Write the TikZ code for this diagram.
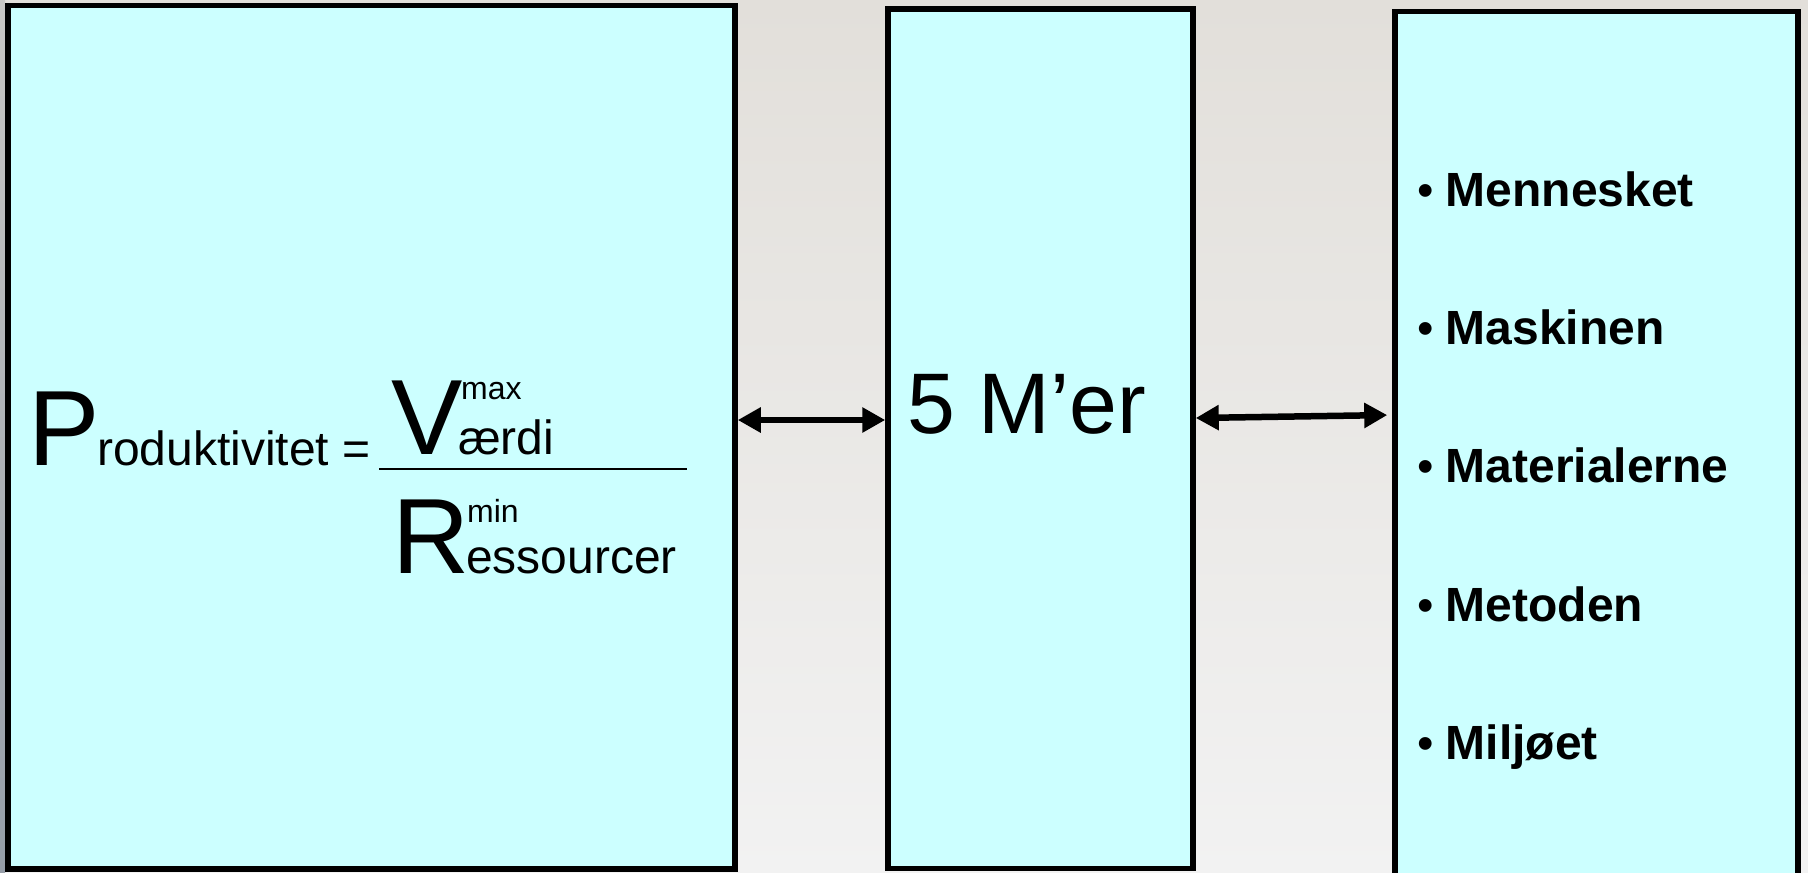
\documentclass[tikz,border=0pt]{standalone}
\usepackage{fontspec}
\setmainfont{Liberation Sans}
\usetikzlibrary{arrows.meta}
\definecolor{boxfill}{RGB}{204,255,255}
\definecolor{bgtop}{RGB}{226,223,218}
\definecolor{bgbot}{RGB}{242,242,242}
\definecolor{striptop}{RGB}{200,199,197}
\definecolor{stripbot}{RGB}{150,158,168}
\begin{document}
\begin{tikzpicture}[x=1pt,y=-1pt,
  box/.style={draw=black, fill=boxfill, line width=5.5pt, inner sep=0pt, rectangle},
  arr/.style={line width=6.5pt, {Triangle[length=23pt,width=24pt]}-{Triangle[length=23pt,width=24pt]}},
  txt/.style={inner sep=0pt, anchor=base west},
  big/.style={font=\fontsize{107}{107}\selectfont},
  mid/.style={font=\fontsize{48}{48}\selectfont},
  sup/.style={font=\fontsize{32}{32}\selectfont},
  item/.style={font=\fontsize{48}{48}\selectfont\bfseries},
  bul/.style={font=\fontsize{47}{47}\selectfont}
]
\useasboundingbox (0,0) rectangle (1808,873);
\clip (0,0) rectangle (1808,873);
\shade[top color=bgtop, bottom color=bgbot] (0,0) rectangle (1808,873);
\shade[top color=striptop, bottom color=stripbot] (0,0) rectangle (5,873);

% boxes
\node[box, minimum width=727pt, minimum height=863.5pt] (b1) at (371.5,437.25) {};
\node[box, minimum width=305pt, minimum height=859.5pt] (b2) at (1040.5,438.75) {};
\node[box, minimum width=403pt, minimum height=900pt] (b3) at (1596.5,461.5) {};

% formula
\node[txt, big] (P) at (28,465) {P};
\node[txt, mid] (prod) at (97,465) {roduktivitet =};
\node[txt, big] (V) at (391,454) {V};
\node[txt, sup] (max) at (461,399) {max};
\node[txt, mid] (vaerdi) at (458,454) {ærdi};
\draw[line width=1.5pt] (379,469) -- (687,469);
\node[txt, big] (R) at (392,573) {R};
\node[txt, sup] (min) at (467,522) {min};
\node[txt, mid] (ress) at (466,573) {essourcer};

% middle
\node[txt, font=\fontsize{86}{86}\selectfont] (m5) at (907,433) {5 M’er};

% list
\foreach \y/\t [count=\i] in {206.5/Mennesket, 344.7/Maskinen, 482.9/Materialerne, 621.1/Metoden, 759.3/Miljøet} {
  \node[txt, bul] (bul\i) at (1417,\y) {•};
  \node[txt, item] (item\i) at (1445.5,\y) {\t};
}

% arrows
\draw[arr] (b1.east |- 0,420) -- (b2.west |- 0,420);
\draw[arr, shorten >=5pt] (b2.east |- 0,418) -- (b3.west |- 0,415);
\end{tikzpicture}
\end{document}
